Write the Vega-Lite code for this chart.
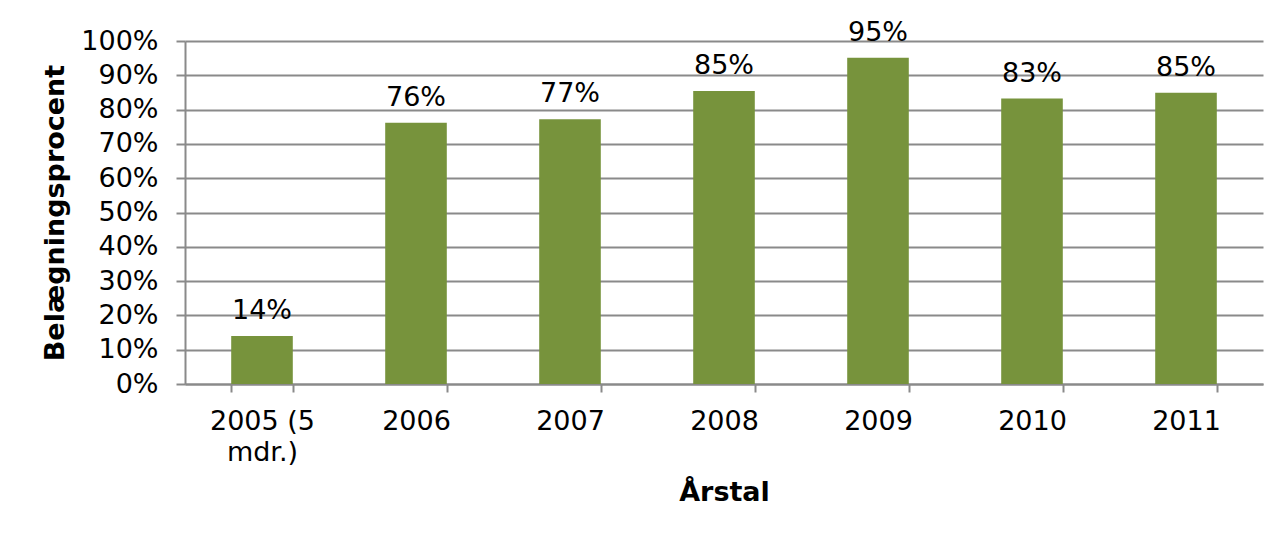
{
  "$schema": "https://vega.github.io/schema/vega-lite/v6.json",
  "width": 1078,
  "height": 343,
  "autosize": {"type": "none"},
  "padding": {"left": 185, "top": 41, "right": 19, "bottom": 150},
  "background": "white",
  "config": {
    "font": "DejaVu Sans",
    "view": {"stroke": null},
    "axis": {
      "domainColor": "#8a8a8a",
      "tickColor": "#8a8a8a",
      "gridColor": "#8a8a8a",
      "domainWidth": 2,
      "tickWidth": 2,
      "gridWidth": 2,
      "labelColor": "black",
      "titleColor": "black",
      "labelFontSize": 27,
      "titleFontSize": 27,
      "titleFontWeight": "bold"
    }
  },
  "data": {
    "values": [
      {"year": "2005 (5 mdr.)", "pct": 0.14},
      {"year": "2006", "pct": 0.762},
      {"year": "2007", "pct": 0.772},
      {"year": "2008", "pct": 0.854},
      {"year": "2009", "pct": 0.951},
      {"year": "2010", "pct": 0.832},
      {"year": "2011", "pct": 0.849}
    ]
  },
  "encoding": {
    "x": {
      "field": "year",
      "type": "nominal",
      "sort": null,
      "scale": {"paddingInner": 0.6, "paddingOuter": 0.3},
      "axis": {
        "title": "Årstal",
        "labelAngle": 0,
        "tickBand": "extent",
        "tickSize": 8,
        "labelPadding": 16,
        "labelLineHeight": 31,
        "labelExpr": "datum.label == '2005 (5 mdr.)' ? ['2005 (5', 'mdr.)'] : datum.label",
        "titlePadding": 14,
        "grid": false
      }
    },
    "y": {
      "field": "pct",
      "type": "quantitative",
      "scale": {"domain": [0, 1]},
      "axis": {
        "title": "Belægningsprocent",
        "values": [0, 0.1, 0.2, 0.3, 0.4, 0.5, 0.6, 0.7, 0.8, 0.9, 1],
        "format": ".0%",
        "grid": true,
        "tickSize": 9,
        "labelPadding": 18,
        "titlePadding": 11
      }
    }
  },
  "layer": [
    {"mark": {"type": "bar", "color": "#77933C"}},
    {
      "mark": {"type": "text", "baseline": "alphabetic", "dy": -17, "fontSize": 27, "color": "black"},
      "encoding": {"text": {"field": "pct", "type": "quantitative", "format": ".0%"}}
    }
  ]
}
